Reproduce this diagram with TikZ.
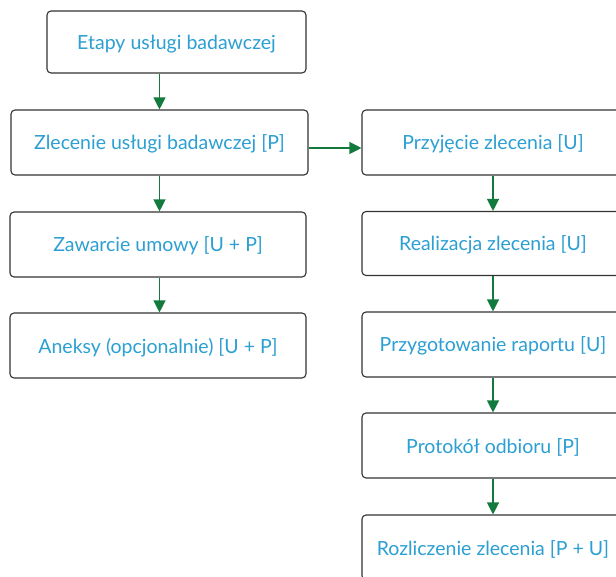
\documentclass[tikz,border=0pt]{standalone}
\usepackage{fontspec}
\setmainfont{Lato}
\usetikzlibrary{arrows.meta}
\definecolor{boxline}{HTML}{333333}
\definecolor{labelblue}{HTML}{2C9FD3}
\definecolor{flowgreen}{HTML}{137A3E}
\begin{document}
\begin{tikzpicture}[x=1pt,y=-1pt,
  stage/.style={draw=boxline,line width=1.1pt,rounded corners=4pt,fill=white,
    inner sep=0pt,text=labelblue,text height=15pt,text depth=0pt,
    font=\fontsize{19.5}{23}\selectfont},
  flow/.style={draw=flowgreen,line width=1.2pt,
    -{Triangle[width=12pt,length=12pt]},fill=flowgreen}]
\useasboundingbox (0,0) rectangle (616,577);
\clip (0,0) rectangle (616,577);
% left column
\node[stage,minimum width=259pt,minimum height=62pt] (e1) at (176.5,42) {Etapy usługi badawczej};
\node[stage,minimum width=297pt,minimum height=65pt] (z1) at (159.5,142.5) {Zlecenie usługi badawczej [P]};
\node[stage,minimum width=296pt,minimum height=65pt] (z2) at (158,244.5) {Zawarcie umowy [U + P]};
\node[stage,minimum width=296pt,minimum height=65pt] (z3) at (158,345.5) {Aneksy (opcjonalnie) [U + P]};
% right column
\node[stage,minimum width=262pt,minimum height=65pt] (r1) at (493,142.5) {Przyjęcie zlecenia [U]};
\node[stage,minimum width=262pt,minimum height=64pt] (r2) at (493,243.5) {Realizacja zlecenia [U]};
\node[stage,minimum width=262pt,minimum height=65pt] (r3) at (493,344.5) {Przygotowanie raportu [U]};
\node[stage,minimum width=262pt,minimum height=65pt] (r4) at (493,445.5) {Protokół odbioru [P]};
\node[stage,minimum width=262pt,minimum height=65pt] (r5) at (493,547.5) {Rozliczenie zlecenia [P + U]};
% connectors
\draw[flow] (e1.south -| z1) -- (z1.north);
\draw[flow] (z1.south) -- (z2.north -| z1);
\draw[flow] (z2.south -| z1) -- (z3.north -| z1);
\draw[flow] (z1.east |- 0,148) -- (r1.west |- 0,148);
\draw[flow] (r1.south) -- (r2.north);
\draw[flow] (r2.south) -- (r3.north);
\draw[flow] (r3.south) -- (r4.north);
\draw[flow] (r4.south) -- (r5.north);
\end{tikzpicture}
\end{document}
